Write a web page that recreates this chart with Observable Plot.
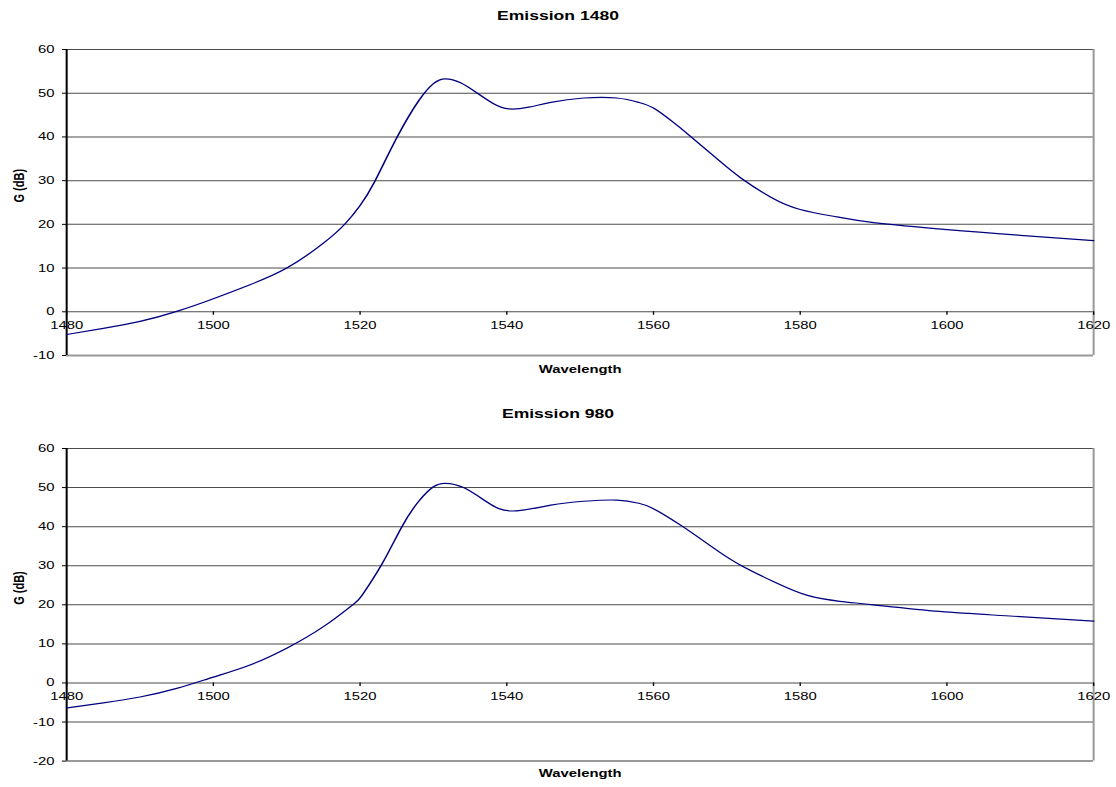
<!DOCTYPE html>
<html>
<head>
<meta charset="utf-8">
<script src="https://cdn.jsdelivr.net/npm/d3@7"></script>
<script src="https://cdn.jsdelivr.net/npm/@observablehq/plot@0.6"></script>
<style>
  html, body { margin: 0; padding: 0; background: #fff; }
  /* The sheet is laid out at 827px and stretched to the full 1116px window width. */
  #page {
    position: relative;
    width: 827px;
    height: 787px;
    transform: scaleX(1.3495);
    transform-origin: 0 0;
    font-family: "Liberation Sans", Arial, sans-serif;
    color: #000;
  }
  .title {
    position: absolute;
    left: 0;
    width: 827px;
    text-align: center;
    font-weight: bold;
    font-size: 13px;
    line-height: 13px;
  }
  .chart { position: absolute; left: 0; }
  .chart svg { overflow: visible; }
</style>
</head>
<body>
<div id="page">
  <div class="title" style="top:9px">Emission 1480</div>
  <div class="chart" id="c1" style="top:30px"></div>
  <div class="title" style="top:407px">Emission 980</div>
  <div class="chart" id="c2" style="top:425px"></div>
</div>
<script>
// Gain spectrum, 1480 nm pump
const wavelength1480 = [1480, 1485, 1490, 1495, 1500, 1505, 1510, 1515, 1518, 1520, 1522, 1525, 1528, 1530, 1531.6, 1533.7, 1536, 1538.2, 1540.3, 1543, 1546, 1550.5, 1555, 1558, 1560, 1562.5, 1565, 1569, 1572, 1576, 1580, 1585, 1590, 1600, 1610, 1620];
const gain1480 = [-5.2, -3.8, -2.2, 0.1, 3.0, 6.2, 10.0, 15.7, 20.2, 24.3, 29.8, 39.8, 48.3, 52.2, 53.3, 52.4, 50.0, 47.6, 46.4, 46.8, 47.9, 48.9, 48.9, 47.9, 46.6, 43.6, 40.2, 34.5, 30.5, 26.2, 23.4, 21.7, 20.4, 18.8, 17.5, 16.3];

// Gain spectrum, 980 nm pump
const wavelength980 = [1480, 1485, 1490, 1495, 1500, 1505, 1510, 1515, 1519, 1520.3, 1523, 1525.7, 1528, 1530, 1531.6, 1534.1, 1537.3, 1540.7, 1546, 1550.5, 1555, 1558, 1560, 1564, 1568.6, 1572, 1576.4, 1581, 1585.4, 1590, 1599, 1608, 1620];
const gain980 = [-6.4, -5.1, -3.6, -1.4, 1.5, 4.6, 8.9, 14.4, 20.0, 22.5, 30.5, 40.0, 46.5, 50.2, 51.1, 50.0, 46.3, 44.0, 45.5, 46.5, 46.8, 46.0, 44.6, 40.0, 34.0, 30.0, 25.9, 22.4, 20.9, 20.0, 18.3, 17.2, 15.8];

const xTicks = [1480, 1500, 1520, 1540, 1560, 1580, 1600, 1620];
const yTicks1480 = [-10, 0, 10, 20, 30, 40, 50, 60];
const yTicks980 = [-20, -10, 0, 10, 20, 30, 40, 50, 60];

const FONT = '"Liberation Sans", Arial, sans-serif';

function gainChart({wl, g, yTicks, height, marginTop, marginBottom, xLabelDy, xTickDy}) {
  const data = wl.map((w, i) => ({w, g: g[i]}));
  const yMin = yTicks[0], yMax = yTicks[yTicks.length - 1];
  const grid = yTicks.slice(1);
  return Plot.plot({
    width: 827,
    height,
    marginLeft: 48.9,
    marginRight: 17.1,
    marginTop,
    marginBottom,
    style: {fontFamily: FONT, fontSize: "11px", color: "#000", background: "transparent", overflow: "visible"},
    x: {domain: [1480, 1620], axis: null},
    y: {domain: [yMin, yMax]},
    marks: [
      // horizontal gridlines
      Plot.ruleY(grid, {stroke: "#4d4d4d", strokeWidth: 1}),
      // plot-area border (right and bottom)
      Plot.ruleX([1620], {stroke: "#999", strokeWidth: 1.5}),
      Plot.ruleY([yMin], {stroke: "#999", strokeWidth: 2}),
      // x axis drawn along G = 0
      Plot.ruleX(xTicks, {x: d => d, y1: 0, y2: 0, insetBottom: -3.5, stroke: "#000"}),
      Plot.text(xTicks, {x: d => d, y: 0, dy: xTickDy, lineAnchor: "top", text: d => String(d), fontSize: 11}),
      // y axis
      Plot.axisY(yTicks, {tickSize: 3, tickPadding: 6, label: null, fontSize: 11, tickFormat: d => String(d)}),
      Plot.ruleX([1480], {stroke: "#000", strokeWidth: 1.5}),
      // smoothed gain curve
      Plot.line(data, {x: "w", y: "g", curve: "natural", stroke: "#000080", strokeWidth: 1.2}),
      // axis titles
      Plot.text(["Wavelength"], {frameAnchor: "bottom", dy: xLabelDy, text: d => d, fontWeight: "bold", fontSize: 11}),
      Plot.text(["G (dB)"], {frameAnchor: "left", dx: -35.4, rotate: -90, text: d => d, fontWeight: "bold", fontSize: 11})
    ]
  });
}

document.getElementById("c1").append(gainChart({
  wl: wavelength1480, g: gain1480, yTicks: yTicks1480,
  height: 360, marginTop: 19, marginBottom: 35, xLabelDy: 17, xTickDy: 9.5
}));

document.getElementById("c2").append(gainChart({
  wl: wavelength980, g: gain980, yTicks: yTicks980,
  height: 362, marginTop: 23, marginBottom: 26.4, xLabelDy: 16, xTickDy: 9
}));
</script>
</body>
</html>
